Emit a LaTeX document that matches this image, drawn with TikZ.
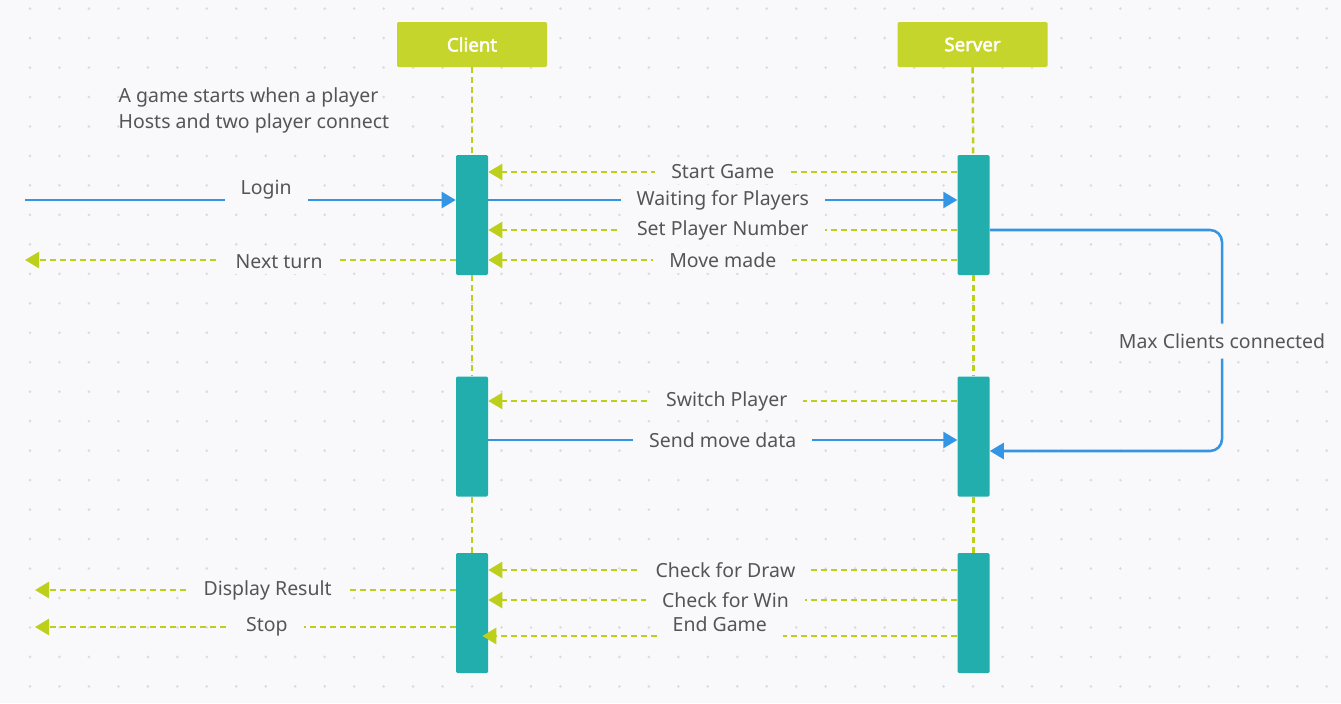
\documentclass[tikz,border=0pt]{standalone}
\usepackage{fontspec}
\setmainfont{Noto Sans}[AutoFakeBold=2.5]
\usetikzlibrary{arrows.meta,positioning,calc}

\definecolor{hdrgreen}{HTML}{C6D52C}
\definecolor{dashgreen}{HTML}{BCCF1A}
\definecolor{barteal}{HTML}{22AEAC}
\definecolor{msgblue}{HTML}{3395E3}
\definecolor{txtgray}{HTML}{555555}
\definecolor{bggray}{HTML}{F9F9FB}
\definecolor{dotgray}{HTML}{DCDCE0}

\begin{document}
\begin{tikzpicture}[x=0.75pt, y=-0.75pt, font=\fontsize{14.6}{17}\selectfont]
    % Define styles
    \tikzstyle{head} = [rectangle, fill=hdrgreen, text=white, font=\fontsize{14}{17}\selectfont\bfseries, minimum width=112.5pt, minimum height=33.75pt, rounded corners=1pt]
    \tikzstyle{bar} = [rectangle, fill=barteal, minimum width=24pt, minimum height=90pt, rounded corners=1pt, inner sep=0pt]
    \tikzstyle{life} = [draw=dashgreen, line width=1.9pt, dash pattern=on 4.5pt off 3pt]
    \tikzstyle{call} = [draw=msgblue, line width=1.9pt, -{Triangle[length=10.5pt, width=12pt]}]
    \tikzstyle{reply} = [draw=dashgreen, line width=1.9pt, dash pattern=on 4.5pt off 3pt, -{Triangle[length=10.5pt, width=12pt]}]
    \tikzstyle{msg} = [fill=bggray, text=txtgray, inner xsep=12pt, inner ysep=4pt]

    % Background
    \fill[bggray] (0,0) rectangle (1341,703);
    \useasboundingbox (0,0) rectangle (1341,703);
    \foreach \i in {0,...,44}
        \foreach \j in {0,...,23}
            \fill[dotgray] (30+29.47*\i, 8.6+29.47*\j) circle (1.1pt);

    % Nodes
    \node[head] (client) at (472,44.5) {Client};
    \node[head] (server) at (972.5,44.5) {Server};
    \node[bar] (ca1) at (472,215) {};
    \node[bar, below=75.75pt of ca1] (ca2) {};
    \node[bar, below=42pt of ca2] (ca3) {};
    \node[bar, right=351.75pt of ca1] (sa1) {};
    \node[bar, right=351.75pt of ca2] (sa2) {};
    \node[bar, right=351.75pt of ca3] (sa3) {};
    \node[anchor=west, align=left, text=txtgray, font=\fontsize{14.6}{19.5}\selectfont] (note) at (114,110) {A game starts when a player\\Hosts and two player connect};

    \coordinate (loginsrc) at (25,200);
    \coordinate (turnout) at (25,260);
    \coordinate (resultout) at (35,590);
    \coordinate (stopout) at (35,627);
    \coordinate (loop) at (1222,341);

    % Lifelines
    \draw[life] (client) -- (ca1);
    \draw[life] (ca1) -- (ca2);
    \draw[life] (ca2) -- (ca3);
    \draw[life] (server) -- (sa1);
    \draw[life] (sa1) -- (sa2);
    \draw[life] (sa2) -- (sa3);

    % Arrows
    \draw[reply] (sa1.west |- 0,172) -- node[msg] {Start Game} (ca1.east |- 0,172);
    \draw[call] (loginsrc) -- node[msg, pos=0.56, yshift=8pt] {Login} (ca1.west |- loginsrc);
    \draw[call] (ca1.east |- 0,200) -- node[msg] {Waiting for Players} (sa1.west |- 0,200);
    \draw[reply] (sa1.west |- 0,230) -- node[msg] {Set Player Number} (ca1.east |- 0,230);
    \draw[reply] (ca1.west |- turnout) -- node[msg, pos=0.41, yshift=-1.5pt] {Next turn} (turnout);
    \draw[reply] (sa1.west |- 0,260) -- node[msg] {Move made} (ca1.east |- 0,260);
    \draw[call, rounded corners=9pt] (sa1.east |- 0,230) -| (loop) node[msg, inner ysep=7.5pt] {Max Clients connected} |- (sa2.east |- 0,451);
    \draw[reply] (sa2.west |- 0,401) -- node[msg, xshift=3pt] {Switch Player} (ca2.east |- 0,401);
    \draw[call] (ca2.east |- 0,440) -- node[msg] {Send move data} (sa2.west |- 0,440);
    \draw[reply] (sa3.west |- 0,570) -- node[msg, xshift=2pt] {Check for Draw} (ca3.east |- 0,570);
    \draw[reply] (sa3.west |- 0,600) -- node[msg, xshift=2pt] {Check for Win} (ca3.east |- 0,600);
    \draw[reply] (sa3.west |- 0,636) -- node[msg, yshift=9pt, inner ysep=6.5pt] {End Game} ([xshift=-4.5pt]ca3.east |- 0,636);
    \draw[reply] (ca3.west |- resultout) -- node[msg, pos=0.447] {Display Result} (resultout);
    \draw[reply] (ca3.west |- stopout) -- node[msg, pos=0.449] {Stop} (stopout);
\end{tikzpicture}
\end{document}
